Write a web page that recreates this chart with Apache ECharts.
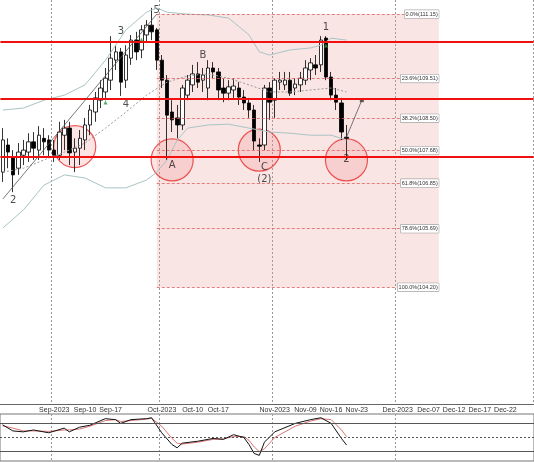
<!DOCTYPE html>
<html><head><meta charset="utf-8">
<script src="https://cdn.jsdelivr.net/npm/echarts@6/dist/echarts.min.js"></script>
<style>html,body{margin:0;padding:0;background:#fff}#c{width:534px;height:462px}</style>
</head><body><div id="c"></div>
<script>
// categories: trading days Aug 18 - Nov 21 2023, then calendar days to Dec 27
const categories = (function(){const a=[];const d=new Date(Date.UTC(2023,7,18));const lastTrade=new Date(Date.UTC(2023,10,21));const end=new Date(Date.UTC(2023,11,27));
 while(d<=end){const w=d.getUTCDay();if(d>lastTrade||(w!==0&&w!==6))a.push(d.toISOString().slice(0,10));d.setUTCDate(d.getUTCDate()+1);}return a;})();
const tickLabels = {"2023-09-01":"Sep-2023","2023-09-11":"Sep-10","2023-09-18":"Sep-17","2023-10-02":"Oct-2023","2023-10-10":"Oct-10","2023-10-17":"Oct-17","2023-11-01":"Nov-2023","2023-11-09":"Nov-09","2023-11-16":"Nov-16","2023-11-23":"Nov-23","2023-12-01":"Dec-2023","2023-12-07":"Dec-07","2023-12-12":"Dec-12","2023-12-17":"Dec-17","2023-12-22":"Dec-22"};
const monthTicks = ["2023-09-01","2023-10-02","2023-11-01","2023-12-01"];
// [open, close, low, high]
const candles = [
[107.13,107.95,106.88,108.25],[107.82,107.64,107.23,107.99],[107.49,107.06,106.62,107.69],[107.23,107.64,107.06,107.87],
[107.56,107.69,107.31,107.95],[107.64,107.90,107.39,108.12],[107.90,107.74,107.44,108.15],[107.69,108.07,107.44,108.30],
[107.99,107.90,107.56,108.25],[107.95,107.69,107.49,108.07],[107.69,107.56,107.39,107.95],[107.56,108.15,107.44,108.41],
[108.07,108.25,107.69,108.46],[108.25,107.62,107.31,108.41],[107.64,107.74,107.13,107.99],[107.74,107.99,107.31,108.20],
[107.95,108.33,107.69,108.51],[108.33,108.71,108.07,108.84],[108.66,109.02,108.41,109.17],[108.96,109.27,108.76,109.47],
[109.17,109.52,108.96,109.78],[109.47,110.03,109.22,110.59],[109.98,110.19,109.73,110.36],[110.19,109.42,109.07,110.29],
[109.47,110.11,109.27,110.36],[110.03,110.49,109.86,110.62],[110.49,110.19,109.98,110.70],[110.24,110.75,110.03,110.87],
[110.62,110.87,110.44,111.00],[110.87,110.70,110.49,111.31],[110.75,109.98,109.73,110.80],[109.98,109.47,109.27,110.11],
[109.47,108.58,107.44,109.60],[108.66,108.46,108.15,108.96],[108.51,108.33,107.99,108.84],[108.33,109.27,108.20,109.35],
[109.09,109.47,108.96,109.60],[109.35,109.63,109.17,109.86],[109.63,109.42,109.27,109.93],[109.47,109.60,109.17,109.78],
[109.27,109.78,108.96,109.98],[109.78,109.68,109.52,109.93],[109.68,109.22,108.96,109.78],[109.27,109.14,108.91,109.52],
[109.14,109.30,108.96,109.47],[109.22,109.32,109.02,109.52],[109.27,109.04,108.84,109.42],[109.04,108.89,108.71,109.22],
[108.89,108.71,108.51,109.02],[108.71,107.92,107.69,108.84],[107.82,107.79,107.39,107.99],[107.82,109.27,107.69,109.35],
[109.27,108.91,108.46,109.42],[108.96,109.47,108.51,109.52],[109.42,109.47,109.22,109.68],[109.35,109.47,109.22,109.68],
[109.47,109.14,109.07,109.68],[109.27,109.37,109.09,109.52],[109.35,109.52,109.17,109.68],[109.47,109.78,109.35,109.98],
[109.73,109.91,109.47,110.03],[109.86,109.78,109.60,110.11],[109.86,110.49,109.68,110.59],[110.54,109.55,109.47,110.59],
[109.55,109.09,108.96,109.68],[109.09,108.91,108.71,109.27],[108.89,108.15,107.95,109.02],[108.02,107.99,107.44,108.33]
];
const bandUpper = [[0,108.71],[4,108.76],[8,108.96],[12,109.09],[16,109.35],[20,109.98],[24,110.75],[28,111.20],[30,111.31],[32,111.20],[36,111.15],[40,111.13],[44,111.05],[48,110.62],[50,110.19],[52,110.11],[56,110.24],[60,110.29],[62,110.36],[64,110.54],[67,110.49]];
const bandMiddle = [[0,107.13],[4,107.23],[8,107.44],[12,107.64],[16,107.87],[20,108.25],[24,108.66],[28,109.09],[32,109.42],[36,109.58],[40,109.63],[44,109.52],[48,109.35],[52,109.17],[56,109.17],[60,109.22],[64,109.27],[67,109.17]];
const bandLower = [[0,105.71],[4,106.17],[8,106.80],[12,107.06],[16,106.98],[20,106.73],[24,106.73],[28,106.93],[30,107.13],[32,107.44],[34,107.95],[36,108.25],[40,108.33],[44,108.35],[48,108.25],[52,108.15],[56,108.12],[60,108.07],[64,108.07],[67,107.95]];
const stochK = [[0,77],[2,64],[4,62],[6,66],[9,60],[12,70],[13,62],[15,72],[17,76],[20,90],[22,88],[23,80],[25,88],[28,90],[29,92],[31,60],[33,35],[34,28],[35,38],[38,42],[41,48],[43,46],[45,56],[47,50],[48,35],[49,16],[50,12],[51,40],[53,62],[57,80],[60,88],[62,92],[64,80],[66,48],[67,34]];
const stochD = [[0,75],[2,70],[4,64],[6,64],[9,63],[12,66],[13,66],[15,68],[17,74],[20,86],[22,88],[23,84],[25,86],[28,89],[29,91],[31,74],[33,48],[34,38],[35,36],[38,40],[41,46],[43,47],[45,52],[47,52],[48,44],[49,30],[50,20],[51,26],[53,50],[57,74],[60,85],[62,90],[64,88],[66,66],[67,52]];
const fibLevels = [["0.0%",111.15],["23.6%",109.51],["38.2%",108.50],["50.0%",107.68],["61.8%",106.85],["78.6%",105.69],["100.0%",104.20]];
const fibRange = ["2023-09-29","2023-12-09"];
const redLevels = [110.46,108.99,107.51];
const waveLabels = [["5","2023-09-29",111.25],["3","2023-09-20",110.70],["4","2023-09-21",108.85],["2","2023-08-22",106.40],["B","2023-10-12",110.10],["A","2023-10-04",107.30],["C","2023-10-30",107.25],["(2)","2023-10-30",106.95],["1","2023-11-15",110.80],["2","2023-11-21",107.45]];
const circles = [["2023-09-07",107.78],["2023-10-04",107.44],["2023-10-27",107.69],["2023-11-21",107.44]];
const trendLine = [["2023-08-18",106.45],["2023-09-29",111.15]];
const projLine = [["2023-11-21",108.02],["2023-11-24",108.96]];
const greenMarks = [["2023-09-15",108.9],["2023-09-26",110.5],["2023-11-15",110.35]];

const idx = {}; categories.forEach((c,i)=>idx[c]=i);
const isMonth = i => monthTicks.includes(categories[i]);
const chart = echarts.init(document.getElementById('c'));
const fibLines = fibLevels.map(f=>[{coord:[fibRange[0],f[1]],label:{formatter:f[0]+'('+f[1].toFixed(2)+')'}},{coord:[fibRange[1],f[1]]}]);
chart.setOption({
 animation:false, backgroundColor:'#fff',
 grid:[{left:-3,width:537,top:0,height:404},{left:-3,width:537,top:414,height:47,show:true,borderColor:'#777',borderWidth:1}],
 xAxis:[
  {type:'category',data:categories,gridIndex:0,boundaryGap:true,axisLine:{lineStyle:{color:'#666'}},axisTick:{show:false},
   axisLabel:{interval:0,fontSize:7,color:'#333',margin:3,formatter:v=>tickLabels[v]||''},
   splitLine:{show:true,interval:(i)=>isMonth(i),lineStyle:{color:'#999',type:[2,2],width:1}}},
  {type:'category',data:categories,gridIndex:1,boundaryGap:true,axisLine:{show:false},axisTick:{show:false},axisLabel:{show:false},
   splitLine:{show:true,interval:(i)=>isMonth(i),lineStyle:{color:'#999',type:[2,2],width:1}}}
 ],
 yAxis:[{type:'value',gridIndex:0,min:101.23,max:111.51,show:false,splitLine:{show:false}},
        {type:'value',gridIndex:1,min:0,max:100,show:false,splitLine:{show:false}}],
 series:[
  {type:'line',data:bandUpper,symbol:'none',connectNulls:true,lineStyle:{color:'#a9c4c4',width:1},silent:true,
   markArea:{silent:true,itemStyle:{color:'rgba(235,150,150,0.25)'},data:[[{coord:[fibRange[0],111.15]},{coord:[fibRange[1],104.20]}]]}},
  {type:'line',data:bandLower,symbol:'none',lineStyle:{color:'#a9c4c4',width:1},silent:true},
  {type:'line',data:bandMiddle,symbol:'none',lineStyle:{color:'#999',width:1,type:[2,2]},silent:true},
  {type:'candlestick',data:candles,barWidth:4,
   itemStyle:{color:'#fff',color0:'#000',borderColor:'#000',borderColor0:'#000',borderWidth:0.8},
   markLine:{symbol:'none',silent:true,animation:false,data:[
     ...redLevels.map(v=>({yAxis:v,lineStyle:{color:'#f01010',width:2,type:'solid'},label:{show:false}})),
     ...fibLines.map(l=>{l[0].lineStyle={color:'#e06060',width:0.8,type:[3,2]};l[0].label.show=true;l[0].label.position='insideEnd';l[0].label.distance=0;l[0].label.fontSize=5.5;l[0].label.color='#333';l[0].label.backgroundColor='#fff';l[0].label.borderColor='#888';l[0].label.borderWidth=0.5;l[0].label.padding=[1,1];return l;}),
     [{coord:trendLine[0],lineStyle:{color:'#555',width:0.8,type:'solid'},label:{show:false}},{coord:trendLine[1]}],
     [{coord:projLine[0],lineStyle:{color:'#555',width:0.8,type:'solid'},label:{show:false}},{coord:projLine[1]}]
   ]}},
  {type:'scatter',data:circles,symbol:'circle',symbolSize:42,silent:true,z:1,itemStyle:{color:'rgba(240,120,120,0.25)',borderColor:'#e83030',borderWidth:1.2}},
  {type:'scatter',data:[projLine[1]],symbol:'rect',symbolSize:4,itemStyle:{color:'#333'},silent:true},
  {type:'scatter',data:greenMarks,symbol:'triangle',symbolSize:4,itemStyle:{color:'#2a9a3a'},silent:true},
  {type:'scatter',data:waveLabels.map(w=>[w[1],w[2],w[0]]),symbolSize:0,silent:true,
   label:{show:true,formatter:p=>p.data[2],fontSize:10,color:'#222',fontFamily:'DejaVu Sans'}},
  {type:'line',xAxisIndex:1,yAxisIndex:1,data:stochD,symbol:'none',lineStyle:{color:'#d05050',width:0.8},
   markLine:{symbol:'none',silent:true,label:{show:false},data:[{yAxis:80,lineStyle:{color:'#555',type:'solid',width:1}},{yAxis:50,lineStyle:{color:'#555',type:[2,2],width:1}},{yAxis:20,lineStyle:{color:'#555',type:'solid',width:1}}]}},
  {type:'line',xAxisIndex:1,yAxisIndex:1,data:stochK,symbol:'none',lineStyle:{color:'#111',width:1}}
 ]
});
</script></body></html>
